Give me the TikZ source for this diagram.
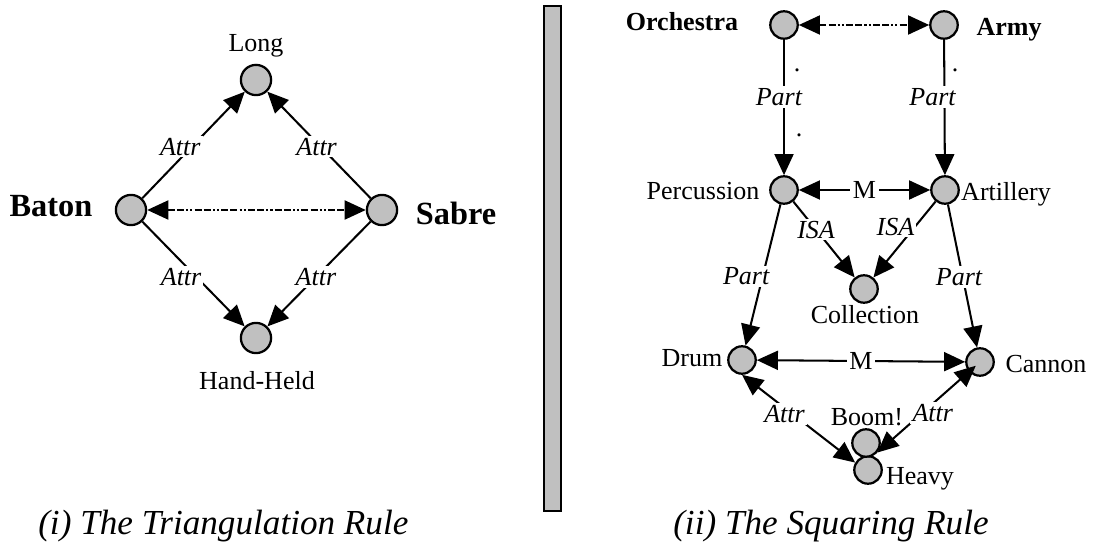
\documentclass[tikz,border=0pt]{standalone}
\usepackage{fontspec}
\setmainfont{Liberation Serif}
\usetikzlibrary{arrows.meta}
\definecolor{dotgray}{HTML}{C0C0C0}

\begin{document}
\begin{tikzpicture}[
    x=0.025cm, y=-0.025cm,
    >={Triangle[length=15pt, width=13.5pt]},
    conceptdot/.style={circle, draw, fill=dotgray, line width=1.6pt, minimum size=19.5pt, inner sep=0pt},
    bigdot/.style={conceptdot, minimum size=21.5pt},
    txt/.style={font=\fontsize{18.5}{20}\selectfont, inner sep=0pt},
    concept/.style={font=\fontsize{18.5}{20}\selectfont\bfseries, inner sep=0pt},
    bigconcept/.style={font=\fontsize{23}{25}\selectfont\bfseries, inner sep=0pt},
    rel/.style={font=\fontsize{18.5}{20}\selectfont\itshape, fill=white, inner sep=1.5pt},
    mlabel/.style={font=\fontsize{18.5}{20}\selectfont, fill=white, inner sep=2pt},
    rulecap/.style={font=\fontsize{25}{28}\selectfont\itshape, inner sep=0pt, anchor=base west},
    line/.style={draw, line width=1.45pt},
    analog/.style={line, <->, dash pattern=on 5pt off 1.5pt on 5pt off 1.5pt on 1.5pt off 1.5pt on 1.5pt off 1.5pt}
]
\useasboundingbox (0,0) rectangle (1097,550);

% (i) triangulation
\node [bigdot] (long) at (256,80) {};
\node [bigdot] (baton) at (131,210) {};
\node [bigdot] (sabre) at (382,210) {};
\node [bigdot] (handheld) at (256,338) {};
\node [txt] (longtxt) at (256,46) {Long};
\node [bigconcept] (batontxt) at (51,206) {Baton};
\node [bigconcept] (sabretxt) at (456,213) {Sabre};
\node [txt] (handtxt) at (257,381) {Hand-Held};

\path [line, ->] (baton) -- (long) node [rel, pos=.485, xshift=-8.3pt] {Attr};
\path [line, ->] (sabre) -- (long) node [rel, pos=.485, xshift=-2.8pt] {Attr};
\path [line, ->] (baton) -- (handheld) node [rel, pos=.53, xshift=-11pt] {Attr};
\path [line, ->] (sabre) -- (handheld) node [rel, pos=.53] {Attr};
\path [analog] (baton) -- (sabre);

\node [rulecap] (captri) at (38,534) {(i) The Triangulation Rule};

% separator
\draw [line width=1.4pt, fill=dotgray] (544,6) rectangle (561,511);

% (ii) squaring
\node [conceptdot] (orch) at (784,25) {};
\node [conceptdot] (army) at (944,25) {};
\node [conceptdot] (perc) at (784,190) {};
\node [conceptdot] (art) at (945,190) {};
\node [conceptdot] (coll) at (864,289) {};
\node [conceptdot] (drum) at (742,360) {};
\node [conceptdot] (cannon) at (980,362) {};
\node [conceptdot] (heavy) at (868,470) {};
\node [conceptdot] (boom) at (866,443) {};

\node [concept] (orchtxt) at (682,22) {Orchestra};
\node [concept] (armytxt) at (1009,30) {Army};
\node [txt] (perctxt) at (703,191) {Percussion};
\node [txt] (arttxt) at (1006,194) {Artillery};
\node [txt] (colltxt) at (865,315) {Collection};
\node [txt] (drumtxt) at (692,358) {Drum};
\node [txt] (cannontxt) at (1046,364) {Cannon};
\node [txt] (boomtxt) at (867,417) {Boom!};
\node [txt] (heavytxt) at (920,479) {Heavy};
\node [txt] (dota) at (797,70) {.};
\node [txt] (dotb) at (799,135) {.};
\node [txt] (dotc) at (955,70) {.};

\path [analog] (orch) -- (army);
\path [line, ->] (orch) -- (perc) node [rel, pos=.424, xshift=-3.6pt] {Part};
\path [line, ->] (army) -- (art) node [rel, pos=.424, xshift=-8.5pt] {Part};
\path [line, <->] (perc) -- (art) node [mlabel, midway] {M};
\path [line, ->] (perc) -- (coll) node [rel, pos=.37] {ISA};
\path [line, ->] (art) -- (coll) node [rel, pos=.33, xshift=-14pt] {ISA};
\path [line, ->] (perc) -- (drum) node [rel, pos=.51, xshift=-11.7pt] {Part};
\path [line, ->] (art) -- (cannon) node [rel, pos=.506, xshift=-2.6pt] {Part};
\path [line, <->] (drum) -- (cannon) node [mlabel, midway] {M};
\path [line, <->] (drum.south) -- (heavy.150) node [rel, pos=.376, yshift=-4.3pt] {Attr};
\path [line, <->, shorten <=4pt] (cannon.center) -- (boom.-40) node [rel, pos=.46, yshift=-6.7pt] {Attr};

\node [rulecap] (capsq) at (673,534) {(ii) The Squaring Rule};

\end{tikzpicture}
\end{document}
